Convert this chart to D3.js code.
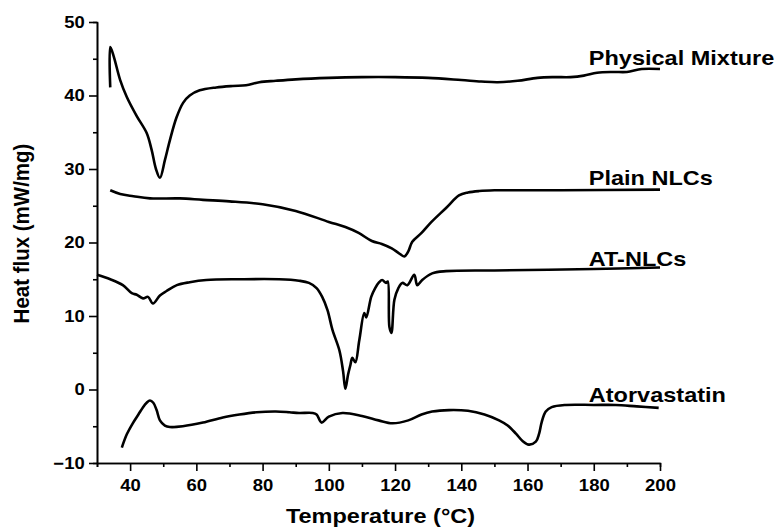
<!DOCTYPE html>
<html>
<head>
<meta charset="utf-8">
<script src="https://cdn.jsdelivr.net/npm/d3@7"></script>
<style>
  body { margin: 0; background: #fff; }
  text { font-family: "Liberation Sans", Arial, sans-serif; font-weight: bold; fill: #000; }
</style>
</head>
<body>
<div id="chart"></div>
<script>
// data
const physTemp = [34, 34, 35, 37, 39, 42, 45, 46.5, 47.8, 49, 50.5, 52, 54, 56, 58, 61, 66, 71, 75, 79, 84, 90, 100, 110, 120, 130, 140, 146, 151, 157, 163, 168, 173, 177, 181, 186, 190, 194.5, 200];
const physVal  = [41.1, 46.6, 45.4, 42.1, 39.8, 37.2, 34.9, 32.6, 30.0, 28.8, 31.2, 33.9, 37.0, 39.0, 40.0, 40.7, 41.1, 41.3, 41.4, 41.8, 42.0, 42.2, 42.4, 42.5, 42.5, 42.4, 42.1, 41.9, 41.8, 42.0, 42.4, 42.5, 42.5, 42.7, 43.1, 43.2, 43.2, 43.6, 43.6];

const plainTemp = [34, 37, 41, 46, 55, 62, 70, 80, 90, 100, 105, 109, 113, 116, 119, 121, 122.8, 124, 125.2, 128, 131, 135.4, 139.3, 142, 145.4, 150, 170, 200];
const plainVal  = [27.1, 26.6, 26.3, 26.0, 26.0, 25.8, 25.6, 25.2, 24.3, 22.8, 22.1, 21.3, 20.2, 19.8, 19.2, 18.6, 18.1, 18.8, 20.1, 21.3, 22.8, 24.7, 26.4, 26.8, 27.0, 27.1, 27.1, 27.2];

const atTemp = [30, 34, 37.8, 40.5, 42, 43.9, 45.4, 46.9, 49, 51, 54.1, 58, 63, 73, 85, 91, 94, 96.3, 98, 99.6, 101.1, 103.2, 104.3, 105, 105.8, 106.5, 107.1, 108, 109.2, 110.7, 111.3, 112.8, 114, 115.2, 116.1, 117.3, 117.8, 118.3, 118.9, 119.8, 121, 122.2, 123.7, 125.8, 126.7, 128.2, 131.2, 135.4, 150, 180, 200];
const atVal  = [15.6, 15.0, 14.2, 13.1, 12.9, 12.4, 12.6, 11.7, 12.8, 13.4, 14.2, 14.6, 14.9, 15.0, 15.0, 14.8, 14.5, 13.8, 12.6, 10.8, 8.1, 5.3, 2.5, 0.1, 2.0, 3.3, 4.3, 3.7, 6.7, 10.4, 9.8, 12.6, 13.8, 14.6, 14.9, 14.5, 14.7, 8.5, 7.7, 12.2, 13.8, 14.5, 14.2, 15.6, 14.2, 14.9, 15.8, 16.1, 16.2, 16.4, 16.6];

const atorTemp = [37.5, 39, 40.8, 42.5, 43.9, 45, 46, 47, 48, 49, 50.5, 52, 55.9, 62, 68, 73, 78.2, 84, 88.1, 91, 95.1, 96.3, 97.8, 100, 104.1, 110, 115, 119.2, 124, 128, 131.2, 136.3, 142, 147, 151.4, 154, 156.5, 158.5, 160.4, 162.5, 163.5, 164.3, 165.5, 167.3, 171.6, 180, 186.6, 193, 199.6];
const atorVal  = [-7.9, -6.1, -4.6, -3.4, -2.4, -1.8, -1.5, -1.8, -2.8, -4.2, -4.9, -5.1, -5.0, -4.5, -3.8, -3.4, -3.1, -3.0, -3.1, -3.2, -3.2, -3.4, -4.5, -3.7, -3.2, -3.6, -4.2, -4.6, -4.2, -3.4, -3.0, -2.8, -2.9, -3.4, -4.2, -4.9, -6.0, -7.0, -7.5, -7.1, -6.0, -4.4, -3.0, -2.4, -2.1, -2.1, -2.1, -2.3, -2.5];

const seriesNames = ["Physical Mixture", "Plain NLCs", "AT-NLCs", "Atorvastatin"];
const labelAt = [44.1, 27.8, 16.8, -1.7]; // y value of each label baseline
const xMajor = [40, 60, 80, 100, 120, 140, 160, 180, 200];
const xMinor = [30, 50, 70, 90, 110, 130, 150, 170, 190];
const yMajor = [-10, 0, 10, 20, 30, 40, 50];
const yMinor = [-5, 5, 15, 25, 35, 45];

const WIDTH = 776, HEIGHT = 527;
const margin = { left: 97, right: 116, top: 22, bottom: 64 };
const STRETCH = 1.12; // the reference text is a bit wider than plain Arial

const svg = d3.select("#chart").append("svg")
  .attr("width", WIDTH)
  .attr("height", HEIGHT);

const x = d3.scaleLinear().domain([30, 200]).range([margin.left, WIDTH - margin.right]);
const y = d3.scaleLinear().domain([-10, 50]).range([HEIGHT - margin.bottom, margin.top]);

// axes
function styleAxis(sel) {
  sel.select(".domain").attr("stroke", "#000").attr("stroke-width", 1.6);
  sel.selectAll(".tick line").attr("stroke", "#000").attr("stroke-width", 1.6);
  sel.selectAll(".tick text")
    .attr("font-size", 16.5)
    .attr("font-family", null)
    .attr("transform", `scale(${STRETCH},1)`);
}

svg.append("g")
  .attr("transform", `translate(0,${y(-10)})`)
  .call(d3.axisBottom(x).tickValues(xMinor).tickSize(4).tickFormat(""))
  .call(styleAxis);
svg.append("g")
  .attr("transform", `translate(0,${y(-10)})`)
  .call(d3.axisBottom(x).tickValues(xMajor).tickSize(8).tickSizeOuter(0).tickPadding(8))
  .call(styleAxis);

svg.append("g")
  .attr("transform", `translate(${x(30)},0)`)
  .call(d3.axisLeft(y).tickValues(yMinor).tickSize(4).tickFormat(""))
  .call(styleAxis);
svg.append("g")
  .attr("transform", `translate(${x(30)},0)`)
  .call(d3.axisLeft(y).tickValues(yMajor).tickSize(8).tickSizeOuter(0).tickPadding(3))
  .call(styleAxis);

// axis titles
svg.append("text")
  .attr("transform", `translate(${(x(30) + x(200)) / 2 + 2},523) scale(${STRETCH},1)`)
  .attr("text-anchor", "middle")
  .attr("font-size", 21)
  .text("Temperature (°C)");

svg.append("text")
  .attr("transform", `translate(29,${(y(-10) + y(50)) / 2 - 9}) rotate(-90) scale(1,${STRETCH})`)
  .attr("text-anchor", "middle")
  .attr("font-size", 20.5)
  .text("Heat flux (mW/mg)");

// curves
const series = [
  [physTemp, physVal],
  [plainTemp, plainVal],
  [atTemp, atVal],
  [atorTemp, atorVal]
];

const line = d3.line()
  .x(d => x(d[0]))
  .y(d => y(d[1]))
  .curve(d3.curveCatmullRom.alpha(0.5));

svg.append("g")
  .selectAll("path")
  .data(series)
  .enter()
  .append("path")
  .attr("d", d => line(d3.zip(d[0], d[1])))
  .attr("fill", "none")
  .attr("stroke", "#000")
  .attr("stroke-width", 2.6)
  .attr("stroke-linejoin", "round");

// series labels
svg.append("g")
  .selectAll("text")
  .data(seriesNames)
  .enter()
  .append("text")
  .attr("transform", (d, i) => `translate(${x(178.5)},${y(labelAt[i])}) scale(${STRETCH},1)`)
  .attr("font-size", 21)
  .text(d => d);
</script>
</body>
</html>
